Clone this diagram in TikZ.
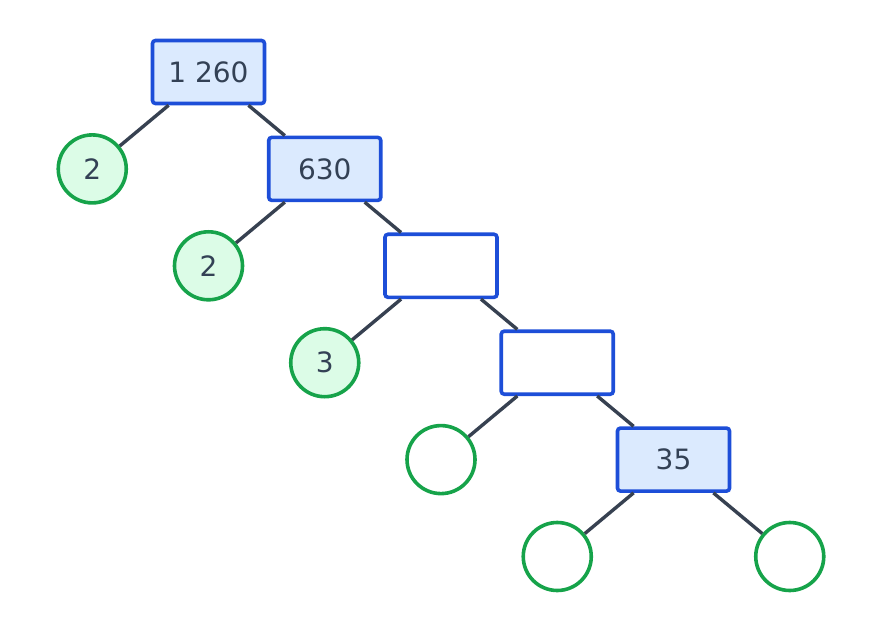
\documentclass[tikz,border=0pt]{standalone}
\usepackage{fontspec}
\setmainfont{DejaVu Sans}
\usepackage{xcolor}
\usetikzlibrary{positioning}

\definecolor{boxfill}{HTML}{DBEAFE}
\definecolor{boxline}{HTML}{1D4ED8}
\definecolor{leaffill}{HTML}{DCFCE7}
\definecolor{leafline}{HTML}{16A34A}
\definecolor{branchgray}{HTML}{374151}
\definecolor{ink}{HTML}{334155}

\begin{document}
\begin{tikzpicture}[x=1pt,y=1pt,
    node distance=96.9pt and 116.25pt, on grid,
    comp/.style={draw=boxline, fill=boxfill, line width=3.6pt, rounded corners=3pt,
        minimum width=112pt, minimum height=63pt, text=ink, font=\fontsize{28}{34}\selectfont},
    blank/.style={comp, fill=white},
    prime/.style={circle, draw=leafline, fill=leaffill, line width=3.6pt, minimum size=68pt,
        inner sep=0pt, text=ink, font=\fontsize{28}{34}\selectfont},
    gap/.style={prime, fill=white},
    branch/.style={draw=branchgray, line width=3.4pt}]
    \useasboundingbox (0,0) rectangle (882,630);

    % Composite numbers
    \node[comp] (n1260) at (208.5,558) {1 260};
    \node[comp, below right=of n1260] (n630) {630};
    \node[blank, below right=of n630] (n315) {};
    \node[blank, below right=of n315] (n105) {};
    \node[comp, below right=of n105] (n35) {35};

    % Prime factors
    \node[prime, below left=of n1260] (p1) {2};
    \node[prime, below left=of n630] (p2) {2};
    \node[prime, below left=of n315] (p3) {3};
    \node[gap, below left=of n105] (p4) {};
    \node[gap, below left=of n35] (p5) {};
    \node[gap, below right=of n35] (p6) {};

    % Branches
    \foreach \a/\b in {n1260/p1, n1260/n630, n630/p2, n630/n315, n315/p3,
                      n315/n105, n105/p4, n105/n35, n35/p5, n35/p6}
        \draw[branch] (\a) -- (\b);
\end{tikzpicture}
\end{document}
